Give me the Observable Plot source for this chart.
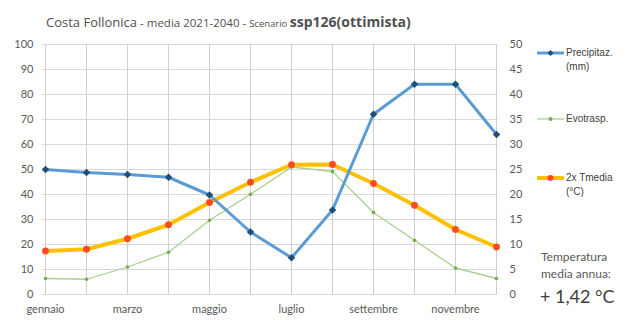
<!DOCTYPE html>
<html>
<head>
<meta charset="utf-8">
<script src="https://cdn.jsdelivr.net/npm/d3@7"></script>
<script src="https://cdn.jsdelivr.net/npm/@observablehq/plot@0.6"></script>
<style>
  html, body { margin: 0; padding: 0; background: #fff; }
  #wrap { position: relative; width: 629px; height: 320px; overflow: hidden; font-family: Lato, "Open Sans", sans-serif; }
  #title { position: absolute; left: 46px; top: 10px; white-space: nowrap; color: #505050; font-family: "Open Sans", sans-serif; }
  .leg { position: absolute; font-family: "Liberation Sans", Arial, sans-serif; font-size: 10px; color: #404040; line-height: 14px; }
  .note { position: absolute; color: #595959; white-space: nowrap; }
  #chart { position: absolute; left: 0; top: 0; }
</style>
</head>
<body>
<div id="wrap">
  <div id="chart"></div>
  <div id="title"><span style="font-size:13px">Costa Follonica</span><span style="font-size:11.5px"> - media 2021-2040 - </span><span style="font-size:9.5px">Scenario </span><span style="font-size:14px;font-weight:bold">ssp126(ottimista)</span></div>
  <div class="note" style="left:541px;top:248px;font-size:12px;line-height:17px;">Temperatura<br>media annua:</div>
  <div class="note" style="left:540px;top:285px;font-size:18px;color:#404040;">+ 1,42 °C</div>
</div>
<script>
const months = ["gennaio","febbraio","marzo","aprile","maggio","giugno","luglio","agosto","settembre","ottobre","novembre","dicembre"];
const tickMonths = ["gennaio","marzo","maggio","luglio","settembre","novembre"];
const precip = [50, 48.8, 48, 46.9, 39.8, 25, 14.7, 33.8, 72.1, 84.1, 84.1, 64];
const evotrasp = [6.4, 6.1, 11, 16.9, 29.7, 40.1, 51, 49.2, 32.8, 21.7, 10.6, 6.4];
const tmedia2x = [17.4, 18.1, 22.3, 27.9, 36.8, 44.9, 51.9, 52, 44.4, 35.7, 26, 19];
const leftTicks = [0,10,20,30,40,50,60,70,80,90,100];
const seriesNames = ["Precipitaz.\n(mm)", "Evotrasp.", "2x Tmedia\n(°C)"];

const P = months.map((m,i)=>({m, v: precip[i]}));
const E = months.map((m,i)=>({m, v: evotrasp[i]}));
const T = months.map((m,i)=>({m, v: tmedia2x[i]}));

const chart = Plot.plot({
  width: 629, height: 320,
  marginLeft: 42, marginRight: 131, marginTop: 44, marginBottom: 26,
  style: { fontFamily: "Lato, 'Open Sans', sans-serif", fontSize: "11px", color: "#595959", background: "transparent" },
  x: { type: "point", domain: months, padding: 0 },
  y: { domain: [0, 100] },
  marks: [
    Plot.gridY(leftTicks, { stroke: "#d9d9d9", strokeOpacity: 1 }),
    Plot.ruleX(months, { y1: 0, y2: 100, stroke: "#cfcfcf", strokeWidth: 1 }),
    Plot.axisY(leftTicks, { anchor: "left", tickSize: 0, tickPadding: 9, label: null, fontSize: 11 }),
    Plot.axisY(leftTicks, { anchor: "right", tickSize: 0, tickPadding: 11, label: null, tickFormat: d => d / 2, fontSize: 11 }),
    Plot.axisX(tickMonths, { tickSize: 0, tickPadding: 11, label: null, fontSize: 11 }),
    Plot.line(E, { x: "m", y: "v", stroke: "#a9d18e", strokeWidth: 1.3 }),
    Plot.dot(E, { x: "m", y: "v", fill: "#70ad47", r: 1.8, stroke: null }),
    Plot.line(T, { x: "m", y: "v", stroke: "#ffc000", strokeWidth: 4 }),
    Plot.dot(T, { x: "m", y: "v", fill: "#ff4b1f", r: 3.4, stroke: null }),
    Plot.line(P, { x: "m", y: "v", stroke: "#5b9bd5", strokeWidth: 3 }),
    Plot.dot(P, { x: "m", y: "v", fill: "#1f4e79", symbol: "diamond2", r: 3.4, stroke: null })
  ]
});
document.getElementById("chart").appendChild(chart);

// Legend (HTML)
const wrap = document.getElementById("wrap");
const legItems = [
  { name: seriesNames[0], top: 46, color: "#5b9bd5", w: 3, dot: "#1f4e79", shape: "diamond" },
  { name: seriesNames[1], top: 112, color: "#a9d18e", w: 1.3, dot: "#70ad47", shape: "circle", r: 2 },
  { name: seriesNames[2], top: 171, color: "#ffc000", w: 4, dot: "#ff4b1f", shape: "circle", r: 3 }
];
legItems.forEach(it => {
  const s = document.createElementNS("http://www.w3.org/2000/svg","svg");
  s.setAttribute("width", 28); s.setAttribute("height", 14);
  s.style.position = "absolute"; s.style.left = "537px"; s.style.top = (it.top) + "px";
  s.innerHTML = `<line x1="0" x2="27" y1="7" y2="7" stroke="${it.color}" stroke-width="${it.w}"/>` +
    (it.shape === "diamond" ? `<path d="M13.5,4 L16.5,7 L13.5,10 L10.5,7 Z" fill="${it.dot}"/>` : `<circle cx="13.5" cy="7" r="${it.r}" fill="${it.dot}"/>`);
  wrap.appendChild(s);
  const d = document.createElement("div");
  d.className = "leg";
  d.style.left = "566px"; d.style.top = it.top + "px";
  d.innerHTML = it.name.replace("\n", "<br>");
  wrap.appendChild(d);
});
</script>
</body>
</html>
